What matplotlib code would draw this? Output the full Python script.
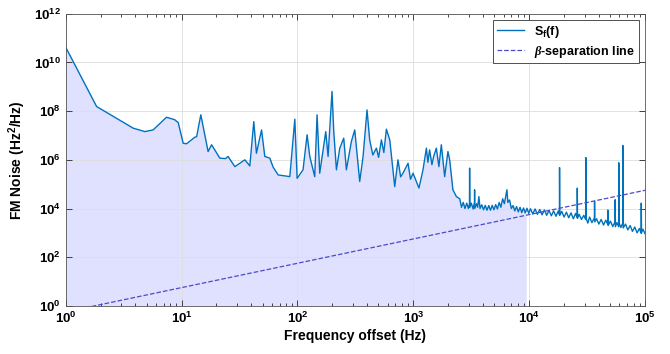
import numpy as np
import matplotlib.pyplot as plt

plt.rcParams['font.family'] = ['Liberation Sans', 'DejaVu Sans']
plt.rcParams['font.weight'] = 'bold'
plt.rcParams['mathtext.fontset'] = 'custom'
plt.rcParams['mathtext.rm'] = 'Liberation Sans:bold'
plt.rcParams['mathtext.bf'] = 'Liberation Sans:bold'
plt.rcParams['mathtext.it'] = 'Liberation Serif:italic'
plt.rcParams['mathtext.default'] = 'bf'

# FM noise spectrum as log10(f), log10(S)
log_f = [0.0, 0.267, 0.583, 0.684, 0.755, 0.87, 0.94, 0.971, 1.014, 1.043,
         1.115, 1.13, 1.166, 1.229, 1.259, 1.33, 1.38, 1.402, 1.416, 1.46,
         1.546, 1.589, 1.623, 1.646, 1.69, 1.718, 1.761, 1.79, 1.833, 1.934,
         1.977, 1.997, 2.048, 2.083, 2.106, 2.149, 2.169, 2.192, 2.244, 2.264,
         2.298, 2.313, 2.336, 2.365, 2.399, 2.422, 2.465, 2.494, 2.537, 2.566,
         2.6, 2.623, 2.65, 2.681, 2.70, 2.724, 2.745, 2.767, 2.796, 2.839,
         2.867, 2.89, 2.91, 2.954, 2.975, 2.997, 3.048, 3.083, 3.112, 3.125,
         3.14, 3.16, 3.175, 3.198, 3.22, 3.241, 3.27, 3.298, 3.313, 3.341,
         3.371, 3.40, 3.415, 3.43, 3.445, 3.46, 3.475, 3.484, 3.485, 3.487,
         3.50, 3.515, 3.527, 3.528, 3.530, 3.545, 3.555, 3.565, 3.575, 3.59,
         3.605, 3.62, 3.635, 3.65, 3.665, 3.68, 3.695, 3.71, 3.725, 3.74,
         3.755, 3.77, 3.785, 3.80, 3.807, 3.815, 3.83, 3.845, 3.86, 3.875,
         3.89, 3.905, 3.92, 3.935, 3.95, 3.965, 3.98, 3.995, 4.01, 4.03,
         4.05, 4.07, 4.09, 4.11, 4.13, 4.15, 4.17, 4.19, 4.21, 4.23,
         4.25, 4.26, 4.261, 4.263, 4.28, 4.30, 4.32, 4.34, 4.36, 4.38,
         4.40, 4.413, 4.414, 4.416, 4.43, 4.45, 4.47, 4.486, 4.488, 4.490,
         4.505, 4.52, 4.54, 4.562, 4.563, 4.565, 4.58, 4.60, 4.62, 4.64,
         4.66, 4.677, 4.678, 4.680, 4.70, 4.72, 4.740, 4.741, 4.743, 4.755,
         4.771, 4.772, 4.775, 4.79, 4.806, 4.807, 4.810, 4.83, 4.85, 4.87,
         4.89, 4.91, 4.93, 4.95, 4.965, 4.966, 4.968, 4.98, 5.0]
log_S = [10.63, 8.19, 7.30, 7.16, 7.23, 7.75, 7.65, 7.53, 6.68, 6.66,
         6.93, 6.95, 7.85, 6.34, 6.62, 6.07, 6.05, 6.14, 6.03, 5.72,
         6.0, 5.75, 7.57, 6.27, 7.23, 6.14, 6.07, 5.7, 5.38, 5.31,
         7.67, 5.24, 5.59, 7.03, 6.14, 5.31, 7.85, 5.45, 7.16, 6.14,
         8.81, 7.16, 5.59, 6.48, 6.89, 5.59, 6.75, 7.23, 5.11, 6.14,
         8.05, 6.82, 6.2, 6.48, 6.1, 6.82, 6.3, 7.26, 6.82, 4.90,
         6.0, 5.3, 5.45, 5.86, 5.2, 5.45, 4.84, 5.59, 6.48, 5.9,
         6.41, 5.8, 6.14, 6.48, 5.72, 6.62, 5.31, 6.34, 6.0, 4.77,
         4.49, 4.40, 4.05, 4.25, 4.00, 4.22, 4.00, 4.20, 5.66, 4.05,
         4.22, 3.98, 4.25, 4.77, 4.00, 4.20, 4.05, 4.49, 4.00, 4.15,
         3.95, 4.13, 3.93, 4.12, 3.93, 4.13, 3.95, 4.16, 3.98, 4.25,
         4.05, 4.40, 4.20, 4.60, 4.77, 4.25, 4.35, 4.00, 4.12, 3.90,
         4.08, 3.86, 4.05, 3.83, 4.02, 3.82, 4.01, 3.80, 3.99, 3.78,
         3.98, 3.76, 3.96, 3.74, 3.94, 3.72, 3.92, 3.70, 3.90, 3.68,
         3.90, 3.75, 5.68, 3.72, 3.88, 3.65, 3.85, 3.62, 3.82, 3.58,
         3.80, 3.62, 4.84, 3.60, 3.76, 3.55, 3.72, 3.55, 6.09, 3.60,
         3.40, 3.65, 3.42, 3.62, 4.29, 3.45, 3.58, 3.36, 3.55, 3.32,
         3.52, 3.35, 3.94, 3.30, 3.48, 3.26, 3.45, 4.36, 3.25, 3.42,
         3.25, 5.88, 3.40, 3.22, 3.40, 6.59, 3.20, 3.36, 3.12, 3.30,
         3.06, 3.24, 3.00, 3.18, 2.98, 4.22, 3.00, 3.15, 2.95]

# beta-separation line end points
beta_f = [1, 1e5]
beta_S = [0.562, 5.62e4]
f_cross = 9.4e3

f = 10 ** np.array(log_f)
S = 10 ** np.array(log_S)

fig = plt.figure(figsize=(6.7, 3.54), dpi=100)
ax = fig.add_axes([0.098, 0.136, 0.865, 0.825])

m = f <= f_cross
ax.fill_between(np.append(f[m], f_cross), 1, np.append(S[m], S[m][-1]),
                color='#0000FF', alpha=0.12, lw=0)
ax.plot(f, S, color='#0072BD', lw=1.0, label=r'$S_f(f)$')
ax.plot(beta_f, beta_S, '--', color='#4B4BC8', lw=0.9,
        label=r'$\mathit{\beta}$-separation line')

ax.set_xscale('log')
ax.set_yscale('log')
ax.set_xlim(1, 1e5)
ax.set_ylim(1, 1e12)
ax.set_xticks([10 ** k for k in range(6)])
ax.set_xticklabels([r'$10^{%d}$' % k for k in range(6)])
ax.set_yticks([10 ** k for k in range(0, 13, 2)])
ax.set_yticklabels([r'$10^{%d}$' % k for k in range(0, 13, 2)])
ax.tick_params(which='both', direction='in', top=True, right=True,
               labelsize=9.5, width=0.5)
ax.tick_params(which='major', length=4)
ax.tick_params(which='minor', length=2)
ax.grid(True, which='major', color='#DDDDDD', lw=0.6)
for s in ax.spines.values():
    s.set_linewidth(0.6)
    s.set_color('#555555')

ax.set_xlabel('Frequency offset (Hz)', fontsize=10, fontweight='bold', labelpad=2)
ax.set_ylabel(r'FM Noise (Hz$^2$/Hz)', fontsize=10, fontweight='bold', labelpad=4)

leg = ax.legend(loc='upper right', fontsize=9, fancybox=False, framealpha=1,
                edgecolor='#333333', borderpad=0.3, handlelength=2.2,
                labelspacing=0.3, borderaxespad=0.5)
leg.get_frame().set_linewidth(0.6)

fig.savefig('out.png', dpi=100)
